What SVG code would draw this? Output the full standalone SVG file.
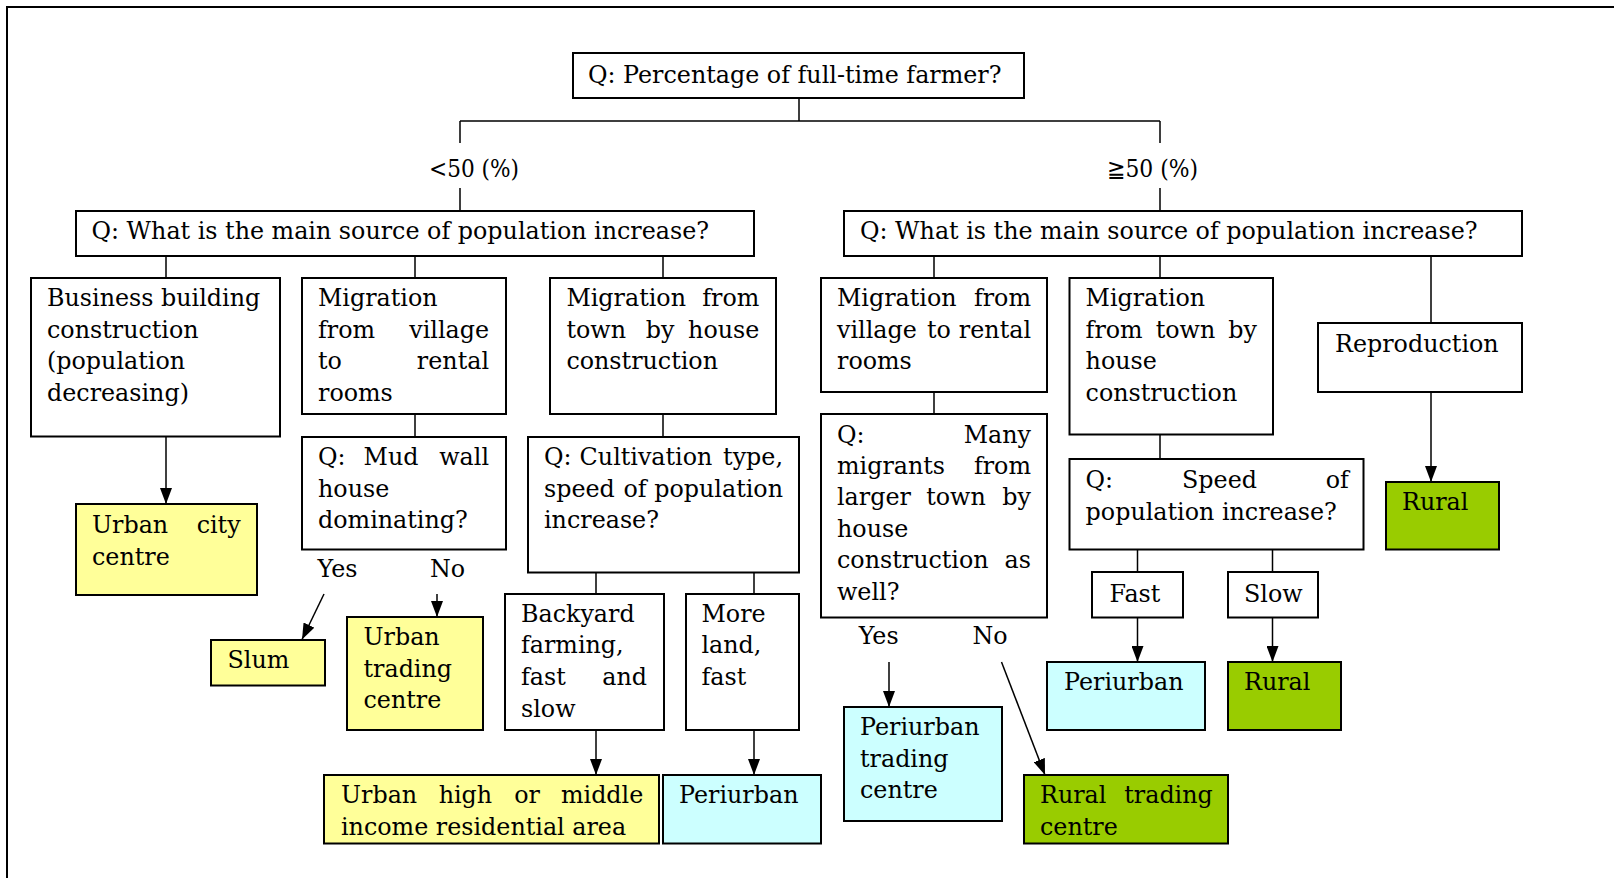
<svg xmlns="http://www.w3.org/2000/svg" width="1614" height="878" viewBox="0 0 1614 878">
<style>
.b{fill:#fff;stroke:#000;stroke-width:2}
.y{fill:#ffff99;stroke:#000;stroke-width:2}
.c{fill:#ccffff;stroke:#000;stroke-width:2}
.g{fill:#99cc00;stroke:#000;stroke-width:2}
.t{font-family:"DejaVu Serif","Liberation Serif",serif;font-size:23.8px;fill:#000}
.e{text-anchor:end}
.m{text-anchor:middle}
.ln{fill:none;stroke:#000;stroke-width:1.5}
</style>
<defs>
<marker id="arr" viewBox="0 0 16 12" refX="16" refY="6" markerWidth="16" markerHeight="12" markerUnits="userSpaceOnUse" orient="auto">
<path d="M0,0 L16,6 L0,12 Z" fill="#000"/>
</marker>
</defs>
<rect width="1614" height="878" fill="#fff"/>
<path d="M7,878 V7 H1614" fill="none" stroke="#000" stroke-width="2"/>

<g id="connectors">
<path class="ln" d="M799,98 V121 M460,121 H1160 M460,121 V143 M460,188 V211 M1160,121 V143 M1160,188 V211"/>
<path class="ln" d="M166,256 V278 M415,256 V278 M663,256 V278 M934,256 V278 M1160,256 V278 M1431,256 V323"/>
<path class="ln" d="M415,414 V437 M663,414 V437 M596,572 V594 M754,572 V594 M934,392 V414 M1160,434 V459 M1137.5,549 V572 M1272.5,549 V572"/>
<path class="ln" marker-end="url(#arr)" d="M166,437 V504"/>
<path class="ln" marker-end="url(#arr)" d="M324,594 L302,639.5"/>
<path class="ln" marker-end="url(#arr)" d="M437,594 V617"/>
<path class="ln" marker-end="url(#arr)" d="M596,730 V775"/>
<path class="ln" marker-end="url(#arr)" d="M754,730 V775"/>
<path class="ln" marker-end="url(#arr)" d="M889,662 V707"/>
<path class="ln" marker-end="url(#arr)" d="M1001.5,662 L1045,775"/>
<path class="ln" marker-end="url(#arr)" d="M1137.5,617 V662"/>
<path class="ln" marker-end="url(#arr)" d="M1272.5,617 V662"/>
<path class="ln" marker-end="url(#arr)" d="M1431,392 V482"/>
<text class="t" x="429" y="177" textLength="90" lengthAdjust="spacingAndGlyphs">&lt;50 (%)</text>
<text class="t" x="1107" y="177" textLength="91" lengthAdjust="spacingAndGlyphs">≧50 (%)</text>
<text class="t" x="317.5" y="577">Yes</text>
<text class="t" x="430" y="577">No</text>
<text class="t" x="858.7" y="644">Yes</text>
<text class="t" x="972.4" y="644">No</text>
</g>

<g id="title">
<rect class="b" x="573" y="53" width="451" height="45"/>
<text class="t" x="588" y="83">Q: Percentage of full-time farmer?</text>
</g>

<g id="q-left">
<rect class="b" x="76" y="211" width="678" height="45"/>
<text class="t" x="91.5" y="239">Q: What is the main source of population increase?</text>
</g>

<g id="q-right">
<rect class="b" x="844" y="211" width="678" height="45"/>
<text class="t" x="860" y="239">Q: What is the main source of population increase?</text>
</g>

<g id="business">
<rect class="b" x="31" y="278" width="249" height="158.5"/>
<text class="t" x="47" y="306">Business building</text>
<text class="t" x="47" y="337.5">construction</text>
<text class="t" x="47" y="369">(population</text>
<text class="t" x="47" y="400.5">decreasing)</text>
</g>

<g id="mig-village-l">
<rect class="b" x="302" y="278" width="204" height="136"/>
<text class="t" x="318" y="306">Migration</text>
<text class="t" x="318" y="337.5">from</text><text class="t e" x="489" y="337.5">village</text>
<text class="t" x="318" y="369">to</text><text class="t e" x="489" y="369">rental</text>
<text class="t" x="318" y="400.5">rooms</text>
</g>

<g id="mig-town-l">
<rect class="b" x="550" y="278" width="226" height="136"/>
<text class="t" x="566.4" y="306">Migration</text><text class="t e" x="759.4" y="306">from</text>
<text class="t" x="566.4" y="337.5">town</text><text class="t m" x="660" y="337.5">by</text><text class="t e" x="759.4" y="337.5">house</text>
<text class="t" x="566.4" y="369">construction</text>
</g>

<g id="urban-city">
<rect class="y" x="76" y="504" width="181" height="91"/>
<text class="t" x="92" y="533">Urban</text><text class="t e" x="240.6" y="533">city</text>
<text class="t" x="92" y="565">centre</text>
</g>

<g id="mud-wall">
<rect class="b" x="302" y="437" width="204" height="112.5"/>
<text class="t" x="318" y="465">Q:</text><text class="t m" x="391" y="465">Mud</text><text class="t e" x="489" y="465">wall</text>
<text class="t" x="318" y="496.5">house</text>
<text class="t" x="318" y="528">dominating?</text>
</g>

<g id="slum">
<rect class="y" x="211" y="640" width="114" height="45.5"/>
<text class="t" x="227.5" y="668">Slum</text>
</g>

<g id="urban-trading">
<rect class="y" x="347" y="617" width="136" height="113"/>
<text class="t" x="363.5" y="645">Urban</text>
<text class="t" x="363.5" y="676.5">trading</text>
<text class="t" x="363.5" y="708">centre</text>
</g>

<g id="cultivation">
<rect class="b" x="528" y="437" width="271" height="135.5"/>
<text class="t" x="544" y="465">Q:</text><text class="t m" x="646" y="465">Cultivation</text><text class="t e" x="783" y="465">type,</text>
<text class="t" x="544" y="496.5">speed</text><text class="t m" x="635" y="496.5">of</text><text class="t e" x="783" y="496.5">population</text>
<text class="t" x="544" y="528">increase?</text>
</g>

<g id="backyard">
<rect class="b" x="505" y="594" width="159" height="136"/>
<text class="t" x="521" y="621.7">Backyard</text>
<text class="t" x="521" y="653.3">farming,</text>
<text class="t" x="521" y="685">fast</text><text class="t e" x="647" y="685">and</text>
<text class="t" x="521" y="716.7">slow</text>
</g>

<g id="more-land">
<rect class="b" x="686" y="594" width="113" height="136"/>
<text class="t" x="701.5" y="621.7">More</text>
<text class="t" x="701.5" y="653.3">land,</text>
<text class="t" x="701.5" y="685">fast</text>
</g>

<g id="urban-high">
<rect class="y" x="324" y="775" width="335" height="68.5"/>
<text class="t" x="341" y="803">Urban</text><text class="t m" x="465.4" y="803">high</text><text class="t m" x="527" y="803">or</text><text class="t e" x="643.3" y="803">middle</text>
<text class="t" x="341" y="835">income residential area</text>
</g>

<g id="periurban-1">
<rect class="c" x="663" y="775" width="158" height="68.5"/>
<text class="t" x="679" y="803">Periurban</text>
</g>

<g id="mig-village-r">
<rect class="b" x="821" y="278" width="226" height="114"/>
<text class="t" x="837" y="306">Migration</text><text class="t e" x="1031" y="306">from</text>
<text class="t" x="837" y="337.5">village</text><text class="t m" x="939" y="337.5">to</text><text class="t e" x="1031" y="337.5">rental</text>
<text class="t" x="837" y="369">rooms</text>
</g>

<g id="mig-town-r">
<rect class="b" x="1069.5" y="278" width="203.5" height="156.5"/>
<text class="t" x="1085.6" y="306">Migration</text>
<text class="t" x="1085.6" y="337.5">from</text><text class="t m" x="1185.5" y="337.5">town</text><text class="t e" x="1257" y="337.5">by</text>
<text class="t" x="1085.6" y="369">house</text>
<text class="t" x="1085.6" y="400.5">construction</text>
</g>

<g id="reproduction">
<rect class="b" x="1318" y="323" width="204" height="69"/>
<text class="t" x="1335" y="352">Reproduction</text>
</g>

<g id="many-migrants">
<rect class="b" x="821" y="414" width="226" height="203.5"/>
<text class="t" x="837" y="443">Q:</text><text class="t e" x="1031" y="443">Many</text>
<text class="t" x="837" y="474">migrants</text><text class="t e" x="1031" y="474">from</text>
<text class="t" x="837" y="505">larger</text><text class="t m" x="956" y="505">town</text><text class="t e" x="1031" y="505">by</text>
<text class="t" x="837" y="536.5">house</text>
<text class="t" x="837" y="568">construction</text><text class="t e" x="1031" y="568">as</text>
<text class="t" x="837" y="600">well?</text>
</g>

<g id="periurban-trading">
<rect class="c" x="844" y="707" width="158" height="114"/>
<text class="t" x="860" y="735">Periurban</text>
<text class="t" x="860" y="766.7">trading</text>
<text class="t" x="860" y="798.3">centre</text>
</g>

<g id="rural-trading">
<rect class="g" x="1024" y="775" width="204" height="68.5"/>
<text class="t" x="1040" y="803">Rural</text><text class="t e" x="1212.8" y="803">trading</text>
<text class="t" x="1040" y="835">centre</text>
</g>

<g id="speed">
<rect class="b" x="1069.5" y="459" width="294" height="90.5"/>
<text class="t" x="1085.6" y="488">Q:</text><text class="t m" x="1219.5" y="488">Speed</text><text class="t e" x="1348.8" y="488">of</text>
<text class="t" x="1085.6" y="520">population increase?</text>
</g>

<g id="fast">
<rect class="b" x="1092" y="572" width="91" height="45.5"/>
<text class="t" x="1109.5" y="601.7">Fast</text>
</g>

<g id="slow">
<rect class="b" x="1228" y="572" width="90" height="45.5"/>
<text class="t" x="1244" y="601.7">Slow</text>
</g>

<g id="periurban-2">
<rect class="c" x="1047" y="662" width="158" height="68"/>
<text class="t" x="1064" y="690">Periurban</text>
</g>

<g id="rural-slow">
<rect class="g" x="1228" y="662" width="113" height="68"/>
<text class="t" x="1244" y="690">Rural</text>
</g>

<g id="rural-repro">
<rect class="g" x="1386" y="482" width="113" height="67.5"/>
<text class="t" x="1402" y="510">Rural</text>
</g>
</svg>
